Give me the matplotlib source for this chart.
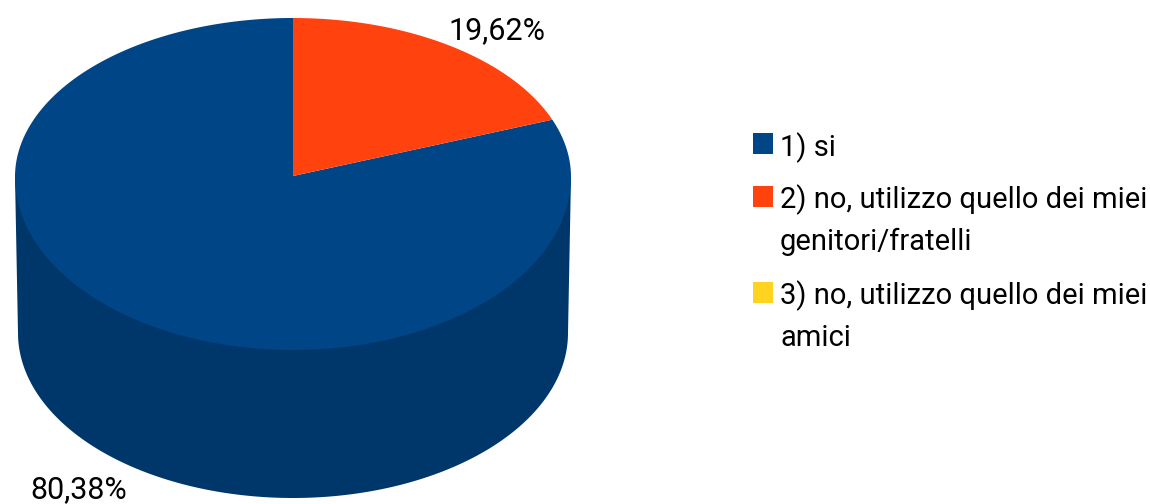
import matplotlib
matplotlib.use('Agg')
import matplotlib.pyplot as plt
from matplotlib.patches import Rectangle
import numpy as np

categorie = ['1) si', '2) no, utilizzo quello dei miei\ngenitori/fratelli',
             '3) no, utilizzo quello dei miei\namici']
valori = [80.38, 19.62, 0.0]
etichette = ['80,38%', '19,62%']
colori = ['#004586', '#ff420e', '#ffd320']
lato = '#00376b'

plt.rcParams['font.family'] = ['Roboto', 'Liberation Sans', 'DejaVu Sans']

def bordo(t):
    # faccia superiore: ellisse schiacciata di piu' sopra che sotto (prospettiva)
    c = np.cos(t)
    return 293 + 278 * np.sin(t), 177 - np.where(c > 0, 159, 173) * c

fig = plt.figure(figsize=(11.5, 5.04), dpi=100)
ax = fig.add_axes([0, 0, 1, 1])

# parete del cilindro: ellisse inferiore + fascia fino a quella superiore
t = np.linspace(np.pi, 2 * np.pi, 200)
xb = 293 + 275 * np.cos(t)
yb = 333 - 165 * np.sin(t)
ax.fill(np.r_[15, xb, 571], np.r_[177, yb, 177], color=lato, lw=0)

# dal bordo alto in senso orario: prima rosso, poi blu
a_rosso = np.radians(360 * valori[1] / sum(valori)) * 0.975
tt = np.linspace(a_rosso, 2 * np.pi, 400)
x, y = bordo(tt)
ax.fill(np.r_[293, x], np.r_[176, y], color=colori[0], lw=0)
tt = np.linspace(0, a_rosso, 100)
x, y = bordo(tt)
ax.fill(np.r_[293, x], np.r_[176, y], color=colori[1], lw=0)

ax.set_xlim(0, 1150)
ax.set_ylim(504, 0)
ax.axis('off')

ax.text(497, 39, etichette[1], fontsize=22, ha='center', va='baseline')
ax.text(79, 498, etichette[0], fontsize=22, ha='center', va='baseline')

# legenda
y_quad = [143.5, 196, 292]
y_testo = [156, 208, 304]
for nome, col, yq, yt in zip(categorie, colori, y_quad, y_testo):
    ax.add_patch(Rectangle((753, yq - 10.5), 20, 21, color=col, lw=0))
    riga = nome.split('\n')
    ax.text(780, yt, riga[0], fontsize=21, va='baseline')
    if len(riga) > 1:
        ax.text(780, yt + 42, riga[1], fontsize=21, va='baseline')

fig.savefig('out.png', dpi=100)
